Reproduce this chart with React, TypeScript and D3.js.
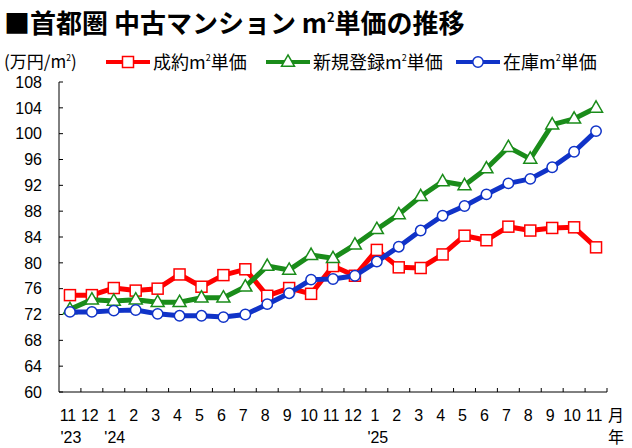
import { useRef, useEffect } from "react";
import * as d3 from "d3";

const months = ["11", "12", "1", "2", "3", "4", "5", "6", "7", "8", "9", "10", "11", "12", "1", "2", "3", "4", "5", "6", "7", "8", "9", "10", "11"];
const years = ["'23", "", "'24", "", "", "", "", "", "", "", "", "", "", "", "'25", "", "", "", "", "", "", "", "", "", ""];

// 成約㎡単価
const contracted = [75.0, 75.0, 76.1, 75.7, 76.0, 78.2, 76.3, 78.1, 79.0, 74.9, 76.1, 75.2, 79.5, 78.0, 82.0, 79.3, 79.2, 81.3, 84.2, 83.5, 85.6, 85.0, 85.4, 85.5, 82.4];
// 新規登録㎡単価
const newListings = [72.8, 74.3, 74.1, 74.3, 73.9, 73.9, 74.6, 74.6, 76.3, 79.5, 78.9, 81.2, 80.7, 82.8, 85.2, 87.5, 90.3, 92.6, 92.0, 94.6, 97.9, 96.1, 101.4, 102.3, 104.0];
// 在庫㎡単価
const inventory = [72.4, 72.4, 72.6, 72.7, 72.1, 71.8, 71.8, 71.6, 72.0, 73.6, 75.3, 77.4, 77.5, 78.0, 80.2, 82.5, 85.0, 87.3, 88.8, 90.6, 92.3, 93.0, 94.8, 97.2, 100.4];

const yTicks = [60, 64, 68, 72, 76, 80, 84, 88, 92, 96, 100, 104, 108];

const RED = "#ff0000";
const GREEN = "#1a8c1a";
const BLUE = "#1033c8";

const JP = "'Noto Sans CJK JP', sans-serif";
const NUM = "'Liberation Sans', Arial, sans-serif";

type Marker = "square" | "triangle" | "circle";

const series: { name: string; values: number[]; color: string; marker: Marker }[] = [
  { name: "成約", values: contracted, color: RED, marker: "square" },
  { name: "新規登録", values: newListings, color: GREEN, marker: "triangle" },
  { name: "在庫", values: inventory, color: BLUE, marker: "circle" },
];

const W = 632;
const H = 448;

export default function App() {
  const svgRef = useRef<SVGSVGElement>(null);

  useEffect(() => {
    if (!svgRef.current) return;
    const svg = d3.select(svgRef.current);
    svg.selectAll("*").remove();

    const margin = { top: 82, right: 25, bottom: 56, left: 59 };
    const innerW = W - margin.left - margin.right;
    const innerH = H - margin.top - margin.bottom;

    const x = d3
      .scaleBand<number>()
      .domain(months.map((_, i) => i))
      .range([0, innerW]);
    const cx = (i: number) => (x(i) ?? 0) + x.bandwidth() / 2;
    const y = d3.scaleLinear().domain([60, 108]).range([innerH, 0]);

    const drawMarker = (
      sel: d3.Selection<SVGGElement, unknown, null, undefined>,
      kind: Marker,
      color: string,
      px: number,
      py: number,
    ) => {
      if (kind === "square") {
        sel
          .append("rect")
          .attr("x", px - 5.5)
          .attr("y", py - 5.5)
          .attr("width", 11)
          .attr("height", 11)
          .attr("fill", "#fff")
          .attr("stroke", color)
          .attr("stroke-width", 1.5);
      } else if (kind === "triangle") {
        const s = 13;
        const h = s * 0.87;
        sel
          .append("path")
          .attr(
            "d",
            `M${px},${py - h * 0.62}L${px + s / 2},${py + h * 0.38}L${px - s / 2},${py + h * 0.38}Z`,
          )
          .attr("fill", "#fff")
          .attr("stroke", color)
          .attr("stroke-width", 1.5);
      } else {
        sel
          .append("circle")
          .attr("cx", px)
          .attr("cy", py)
          .attr("r", 5.2)
          .attr("fill", "#fff")
          .attr("stroke", color)
          .attr("stroke-width", 1.5);
      }
    };

    // text with superscript "2" after "m"
    const supText = (
      parent: d3.Selection<SVGSVGElement, unknown, null, undefined>,
      px: number,
      py: number,
      parts: string[],
      size: number,
      weight = "normal",
    ) => {
      const t = parent
        .append("text")
        .attr("x", px)
        .attr("y", py)
        .attr("font-family", JP)
        .attr("font-size", size)
        .attr("font-weight", weight)
        .attr("fill", "#000");
      parts.forEach((p, i) => {
        if (i > 0) {
          t.append("tspan")
            .attr("dy", -size * 0.42)
            .attr("font-size", size * 0.5)
            .text("2");
          t.append("tspan").attr("dy", size * 0.42).text(p);
        } else {
          t.append("tspan").text(p);
        }
      });
    };

    // Title
    supText(svg, 4, 33, ["■首都圏 中古マンション m", "単価の推移"], 26, "bold");

    // Unit + legend
    supText(svg, 4, 68, ["(万円/m", ")"], 17);
    const legendX = [106, 266, 456];
    series.forEach((s, i) => {
      const lx = legendX[i];
      const lg = svg.append("g");
      lg.append("line")
        .attr("x1", lx)
        .attr("x2", lx + 44)
        .attr("y1", 62)
        .attr("y2", 62)
        .attr("stroke", s.color)
        .attr("stroke-width", 4);
      drawMarker(lg, s.marker, s.color, lx + 22, 62);
      supText(svg, lx + 47, 69, [`${s.name}m`, "単価"], 18);
    });

    const g = svg
      .append("g")
      .attr("transform", `translate(${margin.left},${margin.top})`);

    // Y axis
    g.append("line")
      .attr("x1", 0)
      .attr("x2", 0)
      .attr("y1", 0)
      .attr("y2", innerH)
      .attr("stroke", "#000");
    g.append("g")
      .selectAll("line")
      .data(yTicks)
      .join("line")
      .attr("x1", 0)
      .attr("x2", 4)
      .attr("y1", (d) => y(d))
      .attr("y2", (d) => y(d))
      .attr("stroke", "#000");
    g.append("g")
      .selectAll("text")
      .data(yTicks)
      .join("text")
      .attr("x", -17)
      .attr("y", (d) => y(d))
      .attr("dy", "0.36em")
      .attr("text-anchor", "end")
      .attr("font-family", NUM)
      .attr("font-size", 16)
      .attr("fill", "#000")
      .text((d) => d);

    // X axis
    g.append("line")
      .attr("x1", 0)
      .attr("x2", innerW)
      .attr("y1", innerH)
      .attr("y2", innerH)
      .attr("stroke", "#000");
    g.append("g")
      .selectAll("line")
      .data(months.map((_, i) => i))
      .join("line")
      .attr("x1", (i) => (x(i) ?? 0) + x.bandwidth())
      .attr("x2", (i) => (x(i) ?? 0) + x.bandwidth())
      .attr("y1", innerH)
      .attr("y2", innerH - 4)
      .attr("stroke", "#000");
    g.append("g")
      .selectAll("text")
      .data(months)
      .join("text")
      .attr("x", (_, i) => cx(i) - 2)
      .attr("y", innerH + 29)
      .attr("text-anchor", "middle")
      .attr("font-family", NUM)
      .attr("font-size", 16)
      .attr("fill", "#000")
      .text((d) => d);
    g.append("g")
      .selectAll("text")
      .data(years)
      .join("text")
      .attr("x", (_, i) => cx(i) + 1)
      .attr("y", innerH + 51)
      .attr("text-anchor", "middle")
      .attr("font-family", NUM)
      .attr("font-size", 16)
      .attr("fill", "#000")
      .text((d) => d);
    g.append("text")
      .attr("x", innerW + 1)
      .attr("y", innerH + 29)
      .attr("font-family", JP)
      .attr("font-size", 16)
      .attr("fill", "#000")
      .text("月");
    g.append("text")
      .attr("x", innerW + 1)
      .attr("y", innerH + 51)
      .attr("font-family", JP)
      .attr("font-size", 16)
      .attr("fill", "#000")
      .text("年");

    // Series
    const line = d3
      .line<number>()
      .x((_, i) => cx(i))
      .y((d) => y(d));
    series.forEach((s) => {
      const sg = g.append("g");
      sg.append("path")
        .datum(s.values)
        .attr("fill", "none")
        .attr("stroke", s.color)
        .attr("stroke-width", 5)
        .attr("stroke-linejoin", "round")
        .attr("d", line);
      s.values.forEach((v, i) => drawMarker(sg, s.marker, s.color, cx(i), y(v)));
    });
  }, []);

  return (
    <div style={{ position: "fixed", left: 0, top: 0, width: W, height: H, background: "#fff" }}>
      <svg ref={svgRef} width={W} height={H} style={{ display: "block" }} />
    </div>
  );
}
